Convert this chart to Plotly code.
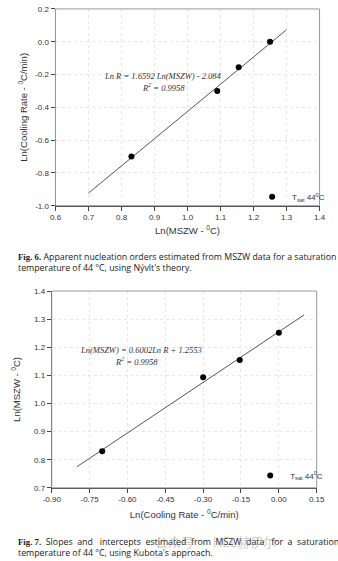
import plotly.graph_objects as go

W, H = 338, 561

# ---- Fig. 6 data (Nývlt) ----
ln_mszw_6 = [0.83, 1.09, 1.155, 1.25]
ln_rate_6 = [-0.70, -0.30, -0.155, 0.0]
fit6_x = [0.70, 1.30]
fit6_y = [-0.923, 0.073]
eq6 = "<i>Ln R = 1.6592 Ln(MSZW) - 2.084</i>"
r2_6 = "<i>R<sup>2</sup> = 0.9958</i>"

# ---- Fig. 7 data (Kubota) ----
ln_rate_7 = [-0.70, -0.30, -0.155, 0.0]
ln_mszw_7 = [0.83, 1.093, 1.155, 1.252]
fit7_x = [-0.80, 0.10]
fit7_y = [0.775, 1.315]
eq7 = "<i>Ln(MSZW) = 0.6002Ln R + 1.2553</i>"
r2_7 = "<i>R<sup>2</sup> = 0.9958</i>"

x6_ticks = [0.6, 0.7, 0.8, 0.9, 1.0, 1.1, 1.2, 1.3, 1.4]
y6_ticks = [0.2, 0.0, -0.2, -0.4, -0.6, -0.8, -1.0]
x7_ticks = [-0.90, -0.75, -0.60, -0.45, -0.30, -0.15, 0.00, 0.15]
y7_ticks = [0.7, 0.8, 0.9, 1.0, 1.1, 1.2, 1.3, 1.4]

legend_label = "T<sub>sat</sub> 44<sup>0</sup>C"

cap6_1_words = ["Apparent", "nucleation", "orders", "estimated", "from", "MSZW", "data", "for", "a", "saturation"]
cap6_2 = "temperature of 44 °C, using Nývlt's theory."
cap7_1_words = ["Slopes", "and", "intercepts", "estimated", "from", "MSZW", "data", "for", "a", "saturation"]
cap7_2 = "temperature of 44 °C, using Kubota's approach."
watermark = "公众号 · HEL赫伊尔"

# extra non-breaking spaces after each word of the justified first line of Fig. 7
cap7_gaps = [1, 1, 2, 1, 1, 1, 1, 2, 1, 1, 1]


def px(x):
    return x / W


def py(y):
    return 1 - y / H


SERIF_B = "font-family:'Liberation Serif','Times New Roman',serif;font-weight:bold"


def caption(label, words, gaps, line2):
    parts = [f"<span style=\"{SERIF_B}\">{label}</span>"]
    for i, w in enumerate(words):
        parts.append(" " + "\u00a0" * gaps[i] + w)
    return "".join(parts) + "<br>" + line2


AX_FONT = dict(family="Arial, Liberation Sans, sans-serif", size=8, color="#333")
TITLE_FONT = dict(family="Arial, Liberation Sans, sans-serif", size=9.5, color="#333")
EQ_FONT = dict(family="Liberation Serif, Times New Roman, serif", size=8.5, color="#333")
CAP_FONT = dict(family="Open Sans, Noto Sans, sans-serif", size=8.8, color="#1a1a1a")

fig = go.Figure()

fig.add_trace(go.Scatter(x=fit6_x, y=fit6_y, mode="lines", line=dict(color="#555", width=1),
                         xaxis="x", yaxis="y", showlegend=False, hoverinfo="skip"))
fig.add_trace(go.Scatter(x=ln_mszw_6, y=ln_rate_6, mode="markers", name=legend_label,
                         marker=dict(color="black", size=6), xaxis="x", yaxis="y",
                         legend="legend"))
fig.add_trace(go.Scatter(x=fit7_x, y=fit7_y, mode="lines", line=dict(color="#555", width=1),
                         xaxis="x2", yaxis="y2", showlegend=False, hoverinfo="skip"))
fig.add_trace(go.Scatter(x=ln_rate_7, y=ln_mszw_7, mode="markers", name=legend_label,
                         marker=dict(color="black", size=6), xaxis="x2", yaxis="y2",
                         legend="legend2"))

common_ax = dict(showline=True, linecolor="#444", linewidth=1, ticks="outside", ticklen=4,
                 tickcolor="#444", tickfont=AX_FONT, showgrid=True, gridcolor="#e6e6e6",
                 griddash="dot", gridwidth=1, zeroline=False, mirror=False)

LEG_FONT = dict(family="Arial, Liberation Sans, sans-serif", size=8, color="#333")

fig.update_layout(
    width=W, height=H, margin=dict(l=0, r=0, t=0, b=0),
    paper_bgcolor="white", plot_bgcolor="white",
    xaxis=dict(common_ax, domain=[px(49), px(327)], range=[0.6, 1.4], tickvals=x6_ticks,
               ticktext=[f"{v:.1f}" for v in x6_ticks], anchor="y",
               title=dict(text="Ln(MSZW - <sup>0</sup>C)", font=TITLE_FONT, standoff=6)),
    yaxis=dict(common_ax, domain=[py(205), py(5)], range=[-1.0, 0.2], tickvals=y6_ticks,
               ticktext=[f"{v:.1f}" for v in y6_ticks], anchor="x",
               title=dict(text="Ln(Cooling Rate - <sup>0</sup>C/min)", font=TITLE_FONT, standoff=5)),
    xaxis2=dict(common_ax, domain=[px(45), px(324)], range=[-0.90, 0.15], tickvals=x7_ticks,
                ticktext=[f"{v:.2f}" for v in x7_ticks], anchor="y2",
                title=dict(text="Ln(Cooling Rate - <sup>0</sup>C/min)", font=TITLE_FONT, standoff=7)),
    yaxis2=dict(common_ax, domain=[py(491.7), py(291.7)], range=[0.7, 1.4], tickvals=y7_ticks,
                ticktext=[f"{v:.1f}" for v in y7_ticks], anchor="x2",
                title=dict(text="Ln(MSZW - <sup>0</sup>C)", font=TITLE_FONT, standoff=11)),
    legend=dict(x=px(256), y=py(196), xanchor="left", yanchor="middle", bgcolor="rgba(0,0,0,0)",
                font=LEG_FONT, itemwidth=30, tracegroupgap=0),
    legend2=dict(x=px(254), y=py(479.3), xanchor="left", yanchor="middle", bgcolor="rgba(0,0,0,0)",
                 font=LEG_FONT, itemwidth=30, tracegroupgap=0),
    showlegend=True,
)

shapes = []
for xr, yr in (("x", "y"), ("x2", "y2")):
    shapes.append(dict(type="rect", xref=f"{xr} domain", yref=f"{yr} domain", x0=0, x1=1, y0=0, y1=1,
                       line=dict(color="#999", width=1), layer="above"))
fig.update_layout(shapes=shapes)

ann = [
    dict(text=eq6, x=px(162), y=py(66), xref="paper", yref="paper", showarrow=False, font=EQ_FONT),
    dict(text=r2_6, x=px(163), y=py(77), xref="paper", yref="paper", showarrow=False, font=EQ_FONT),
    dict(text=eq7, x=px(139), y=py(351.7), xref="paper", yref="paper", showarrow=False, font=EQ_FONT),
    dict(text=r2_7, x=px(134), y=py(363.3), xref="paper", yref="paper", showarrow=False, font=EQ_FONT),
    dict(text=caption("Fig. 6.", cap6_1_words, [0] * 11, cap6_2), x=px(7), y=py(262.5), xref="paper",
         yref="paper", showarrow=False, font=CAP_FONT, xanchor="left", align="left", yanchor="middle"),
    dict(text=caption("Fig. 7.", cap7_1_words, cap7_gaps, cap7_2), x=px(7), y=py(552.5),
         xref="paper", yref="paper", showarrow=False, font=CAP_FONT, xanchor="left", align="left",
         yanchor="middle"),
    dict(text=watermark, x=px(283), y=py(546), xref="paper", yref="paper", showarrow=False,
         yanchor="middle",
         font=dict(family="Noto Sans CJK SC, sans-serif", size=13, color="rgba(150,150,150,0.5)")),
]
fig.update_layout(annotations=ann)

fig.write_html("out.html")
